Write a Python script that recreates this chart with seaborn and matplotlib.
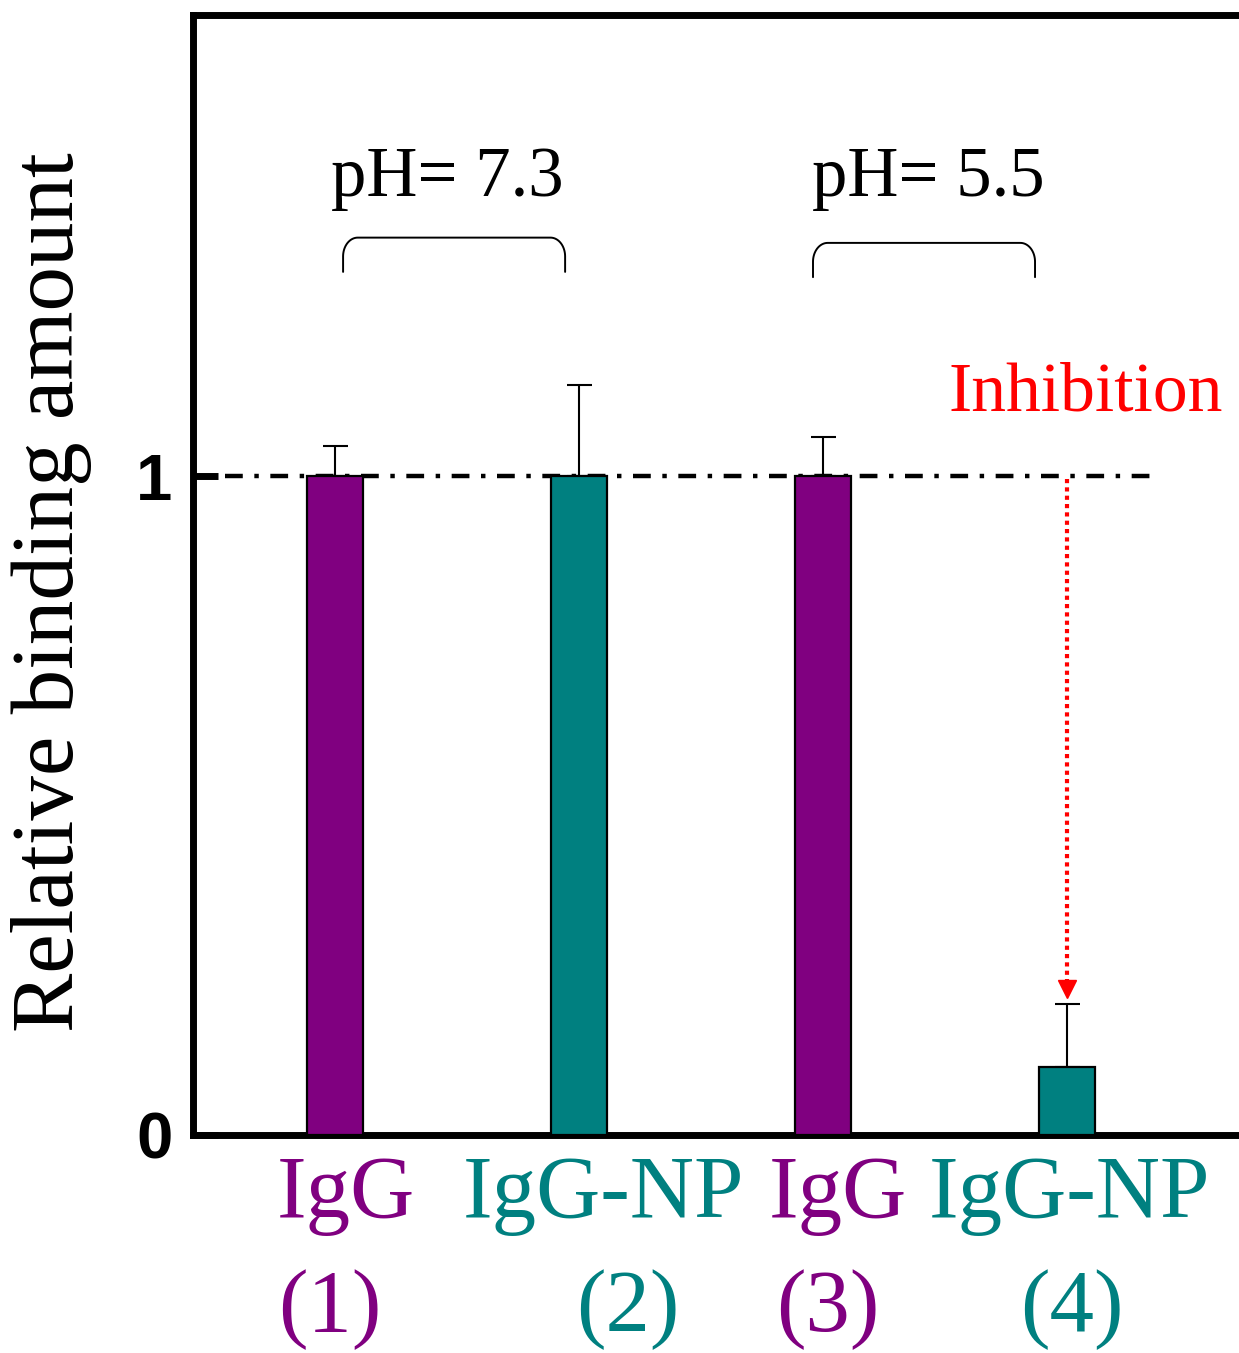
import numpy as np
import pandas as pd
import matplotlib
matplotlib.use("Agg")
import matplotlib.pyplot as plt
import seaborn as sns

# data
samples = ["(1)", "(2)", "(3)", "(4)"]
names = ["IgG", "IgG-NP", "IgG", "IgG-NP"]
binding = [1.0, 1.0, 1.0, 0.103]
err_up = [0.046, 0.138, 0.059, 0.096]
ph_groups = ["pH= 7.3", "pH= 5.5"]

purple = "#800080"
teal = "#008080"
colors = [purple, teal, purple, teal]

df = pd.DataFrame({"sample": samples, "binding": binding})

sns.set_style("white")
plt.rcParams["font.family"] = ["Liberation Serif", "DejaVu Serif"]
plt.rcParams["text.color"] = "black"
plt.rcParams["axes.labelcolor"] = "black"
plt.rcParams["ytick.color"] = "black"

fig = plt.figure(figsize=(12.39, 13.53), dpi=100)
ax = fig.add_axes([0.1558, 0.161, 0.8442, 0.828])

sns.barplot(data=df, x="sample", y="binding", hue="sample", palette=colors,
            legend=False, errorbar=None, width=0.23, edgecolor="black",
            linewidth=1.6, saturation=1, ax=ax, zorder=3)
ax.errorbar(range(len(samples)), binding, yerr=[np.zeros(4), err_up],
            fmt="none", ecolor="black", elinewidth=1.5, capsize=9,
            capthick=1.5, zorder=2)

ax.set_xlim(-0.582, 3.705)
ax.set_ylim(0, 1.70)

# reference line at 1
ax.plot([-0.45, 3.36], [1, 1], color="black", lw=3.2,
        linestyle=(0, (4, 2.6, 1, 2.6)), zorder=1)

# spines / ticks
for side in ["left", "bottom", "top"]:
    ax.spines[side].set_linewidth(5)
    ax.spines[side].set_color("black")
ax.spines["right"].set_visible(False)
ax.set_yticks([0, 1])
ax.set_yticklabels(["0", "1"], family="Liberation Sans", fontsize=47,
                   fontweight="bold", color="black")
ax.tick_params(axis="y", which="major", left=True, direction="in",
               length=18, width=5, pad=15, color="black")
ax.set_xticks([])
ax.set_xlabel("")
ax.set_ylabel("Relative binding amount", fontsize=64, va="center",
              family="Liberation Serif", color="black")
ax.yaxis.set_label_coords(-0.135, 0.485)

# category labels under the axis
trans = ax.get_xaxis_transform()
name_x = [0.045, 1.1, 2.06, 3.01]
num_x = [-0.02, 1.2, 2.02, 3.02]
for i in range(len(samples)):
    ax.text(name_x[i], -0.054, names[i], transform=trans, color=colors[i],
            fontsize=64, ha="center", va="center", clip_on=False)
    ax.text(num_x[i], -0.156, samples[i], transform=trans, color=colors[i],
            fontsize=64, ha="center", va="center", clip_on=False)

# pH brackets
def bracket(x0, x1, ytop, ybot, r=0.06):
    t = np.linspace(0, np.pi / 2, 20)
    rx, ry = r, (ytop - ybot) * 0.55
    left_x = np.concatenate([[x0], x0 + rx - rx * np.cos(t)])
    left_y = np.concatenate([[ybot], ytop - ry + ry * np.sin(t)])
    right_x = np.concatenate([x1 - rx + rx * np.cos(t[::-1]), [x1]])
    right_y = np.concatenate([ytop - ry + ry * np.sin(t[::-1]), [ybot]])
    ax.plot(np.concatenate([left_x, right_x]), np.concatenate([left_y, right_y]),
            color="black", lw=1.4)

bracket(0.033, 0.943, 1.362, 1.31)
bracket(1.959, 2.869, 1.354, 1.302)
ax.text(0.46, 1.451, ph_groups[0], fontsize=51, ha="center", va="center")
ax.text(2.43, 1.451, ph_groups[1], fontsize=51, ha="center", va="center")

# inhibition arrow
ax.text(3.078, 1.125, "Inhibition", color="red", fontsize=50,
        ha="center", va="center")
ax.plot([3.0, 3.0], [0.995, 0.225], color="red", lw=3, linestyle=(0, (1, 1)))
ax.plot([3.0], [0.222], marker="v", color="red", markersize=13)

fig.savefig("out.png", dpi=100)
